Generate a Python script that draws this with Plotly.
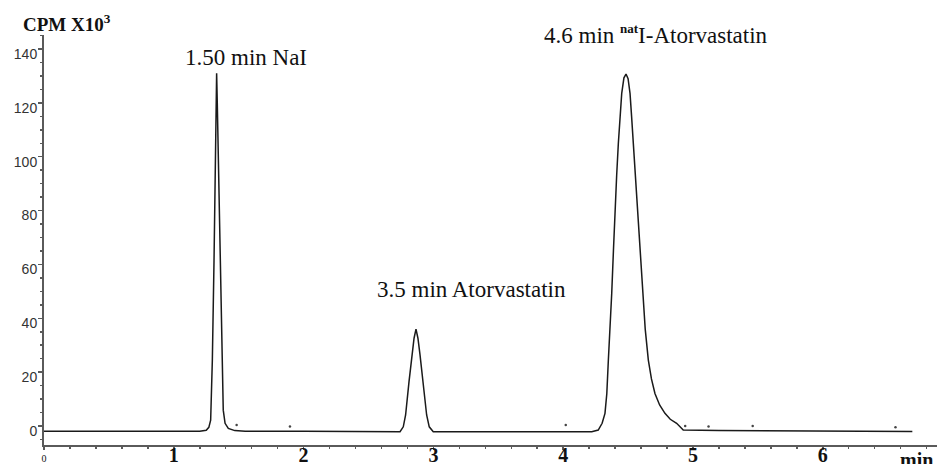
import plotly.graph_objects as go

# ---- chromatogram trace (time in min, counts in CPM x10^3) ----
time_min = [
    0.00, 0.60, 1.15, 1.20, 1.25, 1.27, 1.284, 1.297, 1.310, 1.320, 1.326, 1.330,
    1.335, 1.343, 1.356, 1.369, 1.381, 1.395, 1.42, 1.47, 1.55, 2.00, 2.49, 2.50,
    2.70, 2.743, 2.768, 2.786, 2.812, 2.833, 2.851, 2.866, 2.881, 2.897, 2.918,
    2.948, 2.968, 2.999, 3.05, 3.55, 3.69, 4.00, 4.22, 4.270, 4.300, 4.322, 4.336,
    4.348, 4.361, 4.374, 4.387, 4.399, 4.412, 4.425, 4.438, 4.451, 4.468, 4.484,
    4.500, 4.515, 4.527, 4.540, 4.555, 4.571, 4.590, 4.609, 4.632, 4.656, 4.680,
    4.707, 4.743, 4.784, 4.825, 4.874, 4.925, 5.20, 5.80, 6.69,
]
cpm_k = [
    -1.9, -1.9, -1.9, -1.9, -1.6, -0.5, 2.2, 24.5, 61.6, 98.8, 120.0, 131.0,
    120.0, 98.8, 61.6, 24.5, 5.9, 1.0, -0.9, -1.7, -1.9, -1.9, -1.9, -2.1,
    -2.1, -2.1, -0.3, 4.1, 16.4, 26.4, 32.6, 36.0, 32.6, 26.4, 16.4,
    4.1, -0.3, -2.1, -2.1, -2.1, -2.1, -2.1, -2.1, -1.5, 1.0, 4.7, 12.0,
    24.5, 36.0, 49.3, 65.0, 80.2, 93.0, 105.0, 115.5, 123.5, 129.3, 130.7,
    129.0, 123.5, 115.0, 105.0, 93.0, 80.2, 64.0, 49.3, 36.0, 24.5, 17.5,
    12.1, 7.8, 4.7, 2.5, 1.0, -1.5, -1.7, -1.8, -2.0,
]

# small stray points near the baseline
dot_time = [1.484, 1.895, 4.02, 4.94, 5.12, 5.46, 6.56]
dot_cpm = [0.4, -0.2, 0.4, 0.0, -0.2, 0.0, -0.5]

# axis ticks
x_tickvals = [0, 1, 2, 3, 4, 5, 6]
x_ticktext = ['<span style="font-size:10px">0</span>', "<b>1</b>", "<b>2</b>", "<b>3</b>",
              "<b>4</b>", "<b>5</b>", "<b>6</b>"]
y_tickvals = [0, 20, 40, 60, 80, 100, 120, 140]

# peak labels (x in minutes, y as fraction of plot height)
peak_label_x = [1.556, 3.290, 4.715]
peak_label_y = [0.944, 0.380, 0.963]
peak_label_anchor = ["middle", "middle", "bottom"]
peak_label_text = [
    "1.50 min NaI",
    "3.5 min Atorvastatin",
    '4.6 min <sup><b><span style="font-size:13px">nat</span></b></sup>I-Atorvastatin',
]

fig = go.Figure()
fig.add_trace(go.Scatter(
    x=time_min, y=cpm_k, mode="lines",
    line=dict(color="#1a1a1a", width=1.5),
    showlegend=False, hoverinfo="skip",
))
fig.add_trace(go.Scatter(
    x=dot_time, y=dot_cpm, mode="markers",
    marker=dict(color="#444", size=2.5),
    showlegend=False, hoverinfo="skip",
))

for tx, ty, ya, tt in zip(peak_label_x, peak_label_y, peak_label_anchor, peak_label_text):
    fig.add_annotation(
        x=tx, y=ty, xref="x", yref="paper", text=tt, showarrow=False,
        xanchor="center", yanchor=ya,
        font=dict(family="Liberation Serif", size=23, color="#111"),
    )

fig.add_annotation(
    x=-0.0258, y=0.995, xref="paper", yref="paper", text="<b>CPM X10<sup>3</sup></b>",
    showarrow=False, xanchor="left", yanchor="bottom",
    font=dict(family="Liberation Serif", size=19, color="#111"),
)
fig.add_annotation(
    x=0.956, y=-0.005, xref="paper", yref="paper", text="<b>min</b>",
    showarrow=False, xanchor="left", yanchor="top",
    font=dict(family="Liberation Serif", size=20, color="#111"),
)

fig.update_layout(
    width=937, height=464,
    margin=dict(l=44, r=0, t=35, b=19),
    plot_bgcolor="white", paper_bgcolor="white",
    xaxis=dict(
        range=[0, 6.88], showgrid=False, zeroline=False, automargin=False,
        showline=True, linecolor="#5a5a5a", linewidth=2,
        ticks="outside", ticklen=3, tickcolor="#5a5a5a", tickwidth=1.5,
        tickvals=x_tickvals, ticktext=x_ticktext, ticklabelstandoff=-12,
        tickfont=dict(family="Liberation Serif", size=20, color="#111"),
        minor=dict(dtick=0.2, ticks="outside", ticklen=2, tickcolor="#5a5a5a", tickwidth=1.5),
    ),
    yaxis=dict(
        range=[-7.05, 145.2], showgrid=False, zeroline=False, automargin=False,
        showline=True, linecolor="#5a5a5a", linewidth=2,
        ticks="outside", ticklen=4, tickcolor="#5a5a5a", tickwidth=1.5,
        tickvals=y_tickvals, ticklabelshift=5, ticklabelstandoff=-2,
        tickfont=dict(family="Liberation Sans", size=14, color="#333"),
        minor=dict(dtick=5, ticks="outside", ticklen=2.5, tickcolor="#5a5a5a", tickwidth=1.5),
    ),
)

# remove the browser's default 8px page margin so the figure sits at the window's corner
fig.write_html(
    "out.html",
    config={"displayModeBar": False, "staticPlot": True},
    post_script="document.body.style.margin='0';",
)
